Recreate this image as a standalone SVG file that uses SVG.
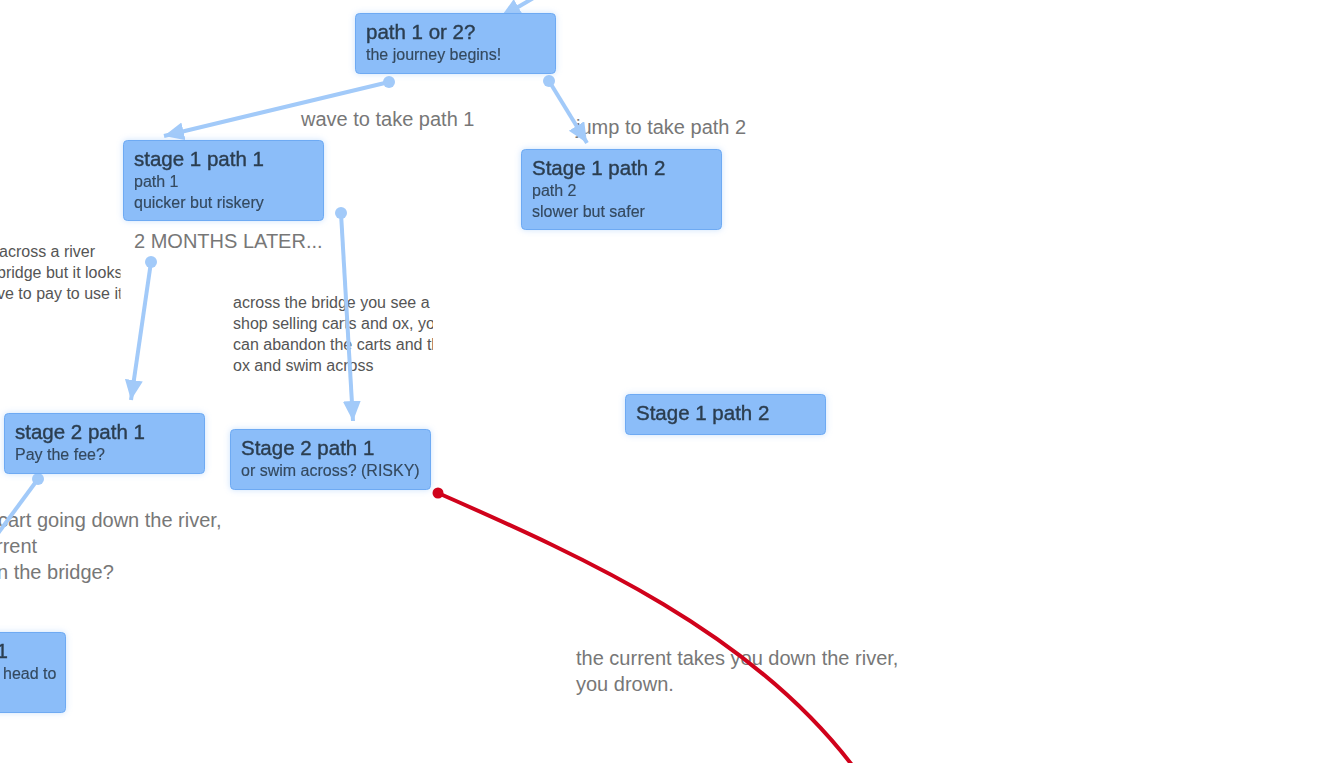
<svg xmlns="http://www.w3.org/2000/svg" width="1342" height="763" viewBox="0 0 1342 763">
  <style>
    .box { fill: #8bbdf9; stroke: #6eaaf3; stroke-width: 1; }
    .title { font-family: "Liberation Sans", Arial, sans-serif; font-size: 20.5px; fill: #2c3e50; stroke: #2c3e50; stroke-width: 0.4; }
    .sub { font-family: "Liberation Sans", Arial, sans-serif; font-size: 16px; fill: #34495e; stroke: #34495e; stroke-width: 0.15; }
    .lbl { font-family: "Liberation Sans", Arial, sans-serif; font-size: 20px; fill: #777777; }
    .note { font-family: "Liberation Sans", Arial, sans-serif; font-size: 16px; fill: #555555; }
    .edge { fill: none; stroke: #a2caf9; stroke-width: 4; }
    .dot { fill: #a2caf9; }
    .red { fill: none; stroke: #d0021b; stroke-width: 4; }
  </style>
  <defs>
    <filter id="glow" x="-10%" y="-20%" width="120%" height="140%">
      <feDropShadow dx="0" dy="0" stdDeviation="3" flood-color="#8bbdf9" flood-opacity="0.45"/>
    </filter>
    <marker id="arrow" markerUnits="userSpaceOnUse" markerWidth="22" markerHeight="20" refX="20" refY="9" orient="auto">
      <path d="M0,0 L20,9 L0,18 z" fill="#a2caf9"/>
    </marker>
    <clipPath id="clipLeft"><rect x="-80" y="235" width="200.5" height="80"/></clipPath>
    <clipPath id="clipMid"><rect x="232" y="285" width="201" height="100"/></clipPath>
  </defs>

  <rect width="1342" height="763" fill="#ffffff"/>

  <g id="labels">
    <text class="lbl" x="301" y="126">wave to take path 1</text>
    <text class="lbl" x="576" y="134">jump to take path 2</text>
    <text class="lbl" x="134" y="248">2 MONTHS LATER...</text>
    <g clip-path="url(#clipLeft)">
      <text class="note" x="-1" y="257">across a river</text>
      <text class="note" x="-3" y="278">bridge but it looks</text>
      <text class="note" x="-3" y="299">ve to pay to use it</text>
    </g>
    <g clip-path="url(#clipMid)">
      <text class="note" x="233" y="308">across the bridge you see a</text>
      <text class="note" x="233" y="329">shop selling carts and ox, you</text>
      <text class="note" x="233" y="350">can abandon the carts and the</text>
      <text class="note" x="233" y="371">ox and swim across</text>
    </g>
    <text class="lbl" x="-2" y="527">cart going down the river,</text>
    <text class="lbl" x="-4" y="553">rrent</text>
    <text class="lbl" x="-3" y="579">n the bridge?</text>
    <text class="lbl" x="576" y="665">the current takes you down the river,</text>
    <text class="lbl" x="576" y="691">you drown.</text>
  </g>

  <g id="connectors">
    <path class="edge" d="M542,-7 L501,17" marker-end="url(#arrow)"/>
    <path class="edge" d="M389,82 L164,136" marker-end="url(#arrow)"/>
    <circle class="dot" cx="389" cy="82" r="6"/>
    <path class="edge" d="M549,81 L587,143" marker-end="url(#arrow)"/>
    <circle class="dot" cx="549" cy="81" r="6"/>
    <path class="edge" d="M151,262 L131,400" marker-end="url(#arrow)"/>
    <circle class="dot" cx="151" cy="262" r="6"/>
    <path class="edge" d="M341,213 L353,421" marker-end="url(#arrow)"/>
    <circle class="dot" cx="341" cy="213" r="6"/>
    <path class="edge" d="M38,479 L-4,536"/>
    <circle class="dot" cx="38" cy="479" r="6"/>
    <path class="red" d="M438,493 C588,559 751,633 852,765"/>
    <circle cx="438" cy="493" r="5.5" fill="#d0021b"/>
  </g>

  <g id="node-path-1-or-2" filter="url(#glow)">
    <rect class="box" x="355.5" y="13.5" width="200" height="60" rx="4"/>
    <text class="title" x="366" y="39">path 1 or 2?</text>
    <text class="sub" x="366" y="60">the journey begins!</text>
  </g>

  <g id="node-stage1-path1" filter="url(#glow)">
    <rect class="box" x="123.5" y="140.5" width="200" height="80" rx="4"/>
    <text class="title" x="134" y="166">stage 1 path 1</text>
    <text class="sub" x="134" y="187">path 1</text>
    <text class="sub" x="134" y="208">quicker but riskery</text>
  </g>

  <g id="node-stage1-path2" filter="url(#glow)">
    <rect class="box" x="521.5" y="149.5" width="200" height="80" rx="4"/>
    <text class="title" x="532" y="175">Stage 1 path 2</text>
    <text class="sub" x="532" y="196">path 2</text>
    <text class="sub" x="532" y="217">slower but safer</text>
  </g>

  <g id="node-stage2-path1-fee" filter="url(#glow)">
    <rect class="box" x="4.5" y="413.5" width="200" height="60" rx="4"/>
    <text class="title" x="15" y="439">stage 2 path 1</text>
    <text class="sub" x="15" y="460">Pay the fee?</text>
  </g>

  <g id="node-stage2-path1-swim" filter="url(#glow)">
    <rect class="box" x="230.5" y="429.5" width="200" height="60" rx="4"/>
    <text class="title" x="241" y="455">Stage 2 path 1</text>
    <text class="sub" x="241" y="476">or swim across? (RISKY)</text>
  </g>

  <g id="node-stage1-path2-b" filter="url(#glow)">
    <rect class="box" x="625.5" y="394.5" width="200" height="40" rx="4"/>
    <text class="title" x="636" y="420">Stage 1 path 2</text>
  </g>

  <g id="node-bottom-left" filter="url(#glow)">
    <rect class="box" x="-135.5" y="632.5" width="201" height="80" rx="4"/>
    <text class="title" x="-3.5" y="658">1</text>
    <text class="sub" x="3" y="679">head to</text>
  </g>
</svg>
